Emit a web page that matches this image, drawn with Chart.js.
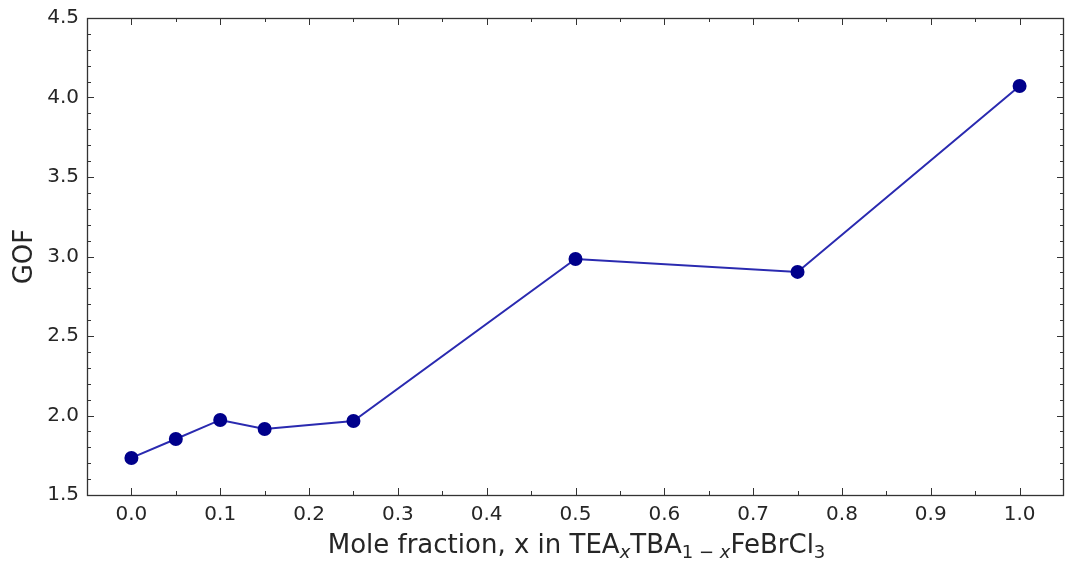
<!DOCTYPE html>
<html>
<head>
<meta charset="utf-8">
<script src="https://cdn.jsdelivr.net/npm/chart.js@4"></script>
<style>
  html, body { margin: 0; padding: 0; background: #fff; }
  #wrap { width: 1065px; height: 563px; }
</style>
</head>
<body>
<div id="wrap"><canvas id="chartGof" width="1065" height="563"></canvas></div>
<script>
// mole fraction x and goodness of fit
const moleFraction = [0.0, 0.05, 0.1, 0.15, 0.25, 0.5, 0.75, 1.0];
const gof = [1.733, 1.852, 1.972, 1.915, 1.965, 2.984, 2.903, 4.072];

const xTicks = [0.0, 0.1, 0.2, 0.3, 0.4, 0.5, 0.6, 0.7, 0.8, 0.9, 1.0];
const yTicks = [1.5, 2.0, 2.5, 3.0, 3.5, 4.0, 4.5];

const FONT = "'DejaVu Sans', sans-serif";
const INK = '#262626';

// inward ticks on all four sides, frame and axis labels
let frameTicks = {
    id: 'frameTicks',
    afterDraw(chart) {
        let ctx = chart.ctx;
        let a = chart.chartArea;
        let xs = chart.scales.x, ys = chart.scales.y;
        ctx.save();
        ctx.strokeStyle = '#333';
        ctx.lineWidth = 1;
        ctx.beginPath();
        for (let i = 0; i <= 22; i++) {
            let v = -0.05 + i * 0.05;
            let px = Math.round(xs.getPixelForValue(v)) + 0.5;
            if (px <= a.left + 1 || px >= a.right - 1) continue;
            let len = (Math.abs(Math.round(v * 20)) % 2 === 0) ? 7 : 4;
            ctx.moveTo(px, a.bottom); ctx.lineTo(px, a.bottom - len);
            ctx.moveTo(px, a.top); ctx.lineTo(px, a.top + len);
        }
        for (let i = 0; i <= 30; i++) {
            let v = 1.5 + i * 0.1;
            let py = Math.round(ys.getPixelForValue(v)) + 0.5;
            if (py <= a.top + 1 || py >= a.bottom - 1) continue;
            let len = (i % 5 === 0) ? 7 : 4;
            ctx.moveTo(a.left, py); ctx.lineTo(a.left + len, py);
            ctx.moveTo(a.right, py); ctx.lineTo(a.right - len, py);
        }
        ctx.stroke();
        ctx.lineWidth = 1.3;
        ctx.strokeRect(a.left + 0.5, a.top + 0.5, a.right - a.left - 1, a.bottom - a.top);

        // y title
        ctx.fillStyle = INK;
        ctx.font = '26px ' + FONT;
        ctx.textAlign = 'center';
        ctx.textBaseline = 'alphabetic';
        ctx.translate(32, (a.top + a.bottom) / 2);
        ctx.rotate(-Math.PI / 2);
        ctx.fillText('GOF', 0, 0);
        ctx.setTransform(1, 0, 0, 1, 0, 0);

        // x title with subscripts: [text, subscript, italic]
        let parts = [
            ['Mole fraction, x in TEA', false, false],
            ['x', true, true],
            ['TBA', false, false],
            ['1 \u2212 ', true, false],
            ['x', true, true],
            ['FeBrCl', false, false],
            ['3', true, false]
        ];
        let fontFor = p => (p[2] ? 'italic ' : '') + (p[1] ? '18px ' : '26px ') + FONT;
        let total = 0;
        parts.forEach(p => { ctx.font = fontFor(p); total += ctx.measureText(p[0]).width; });
        let x = (a.left + a.right) / 2 + 1 - total / 2;
        let base = 553;
        ctx.textAlign = 'left';
        parts.forEach(p => {
            ctx.font = fontFor(p);
            ctx.fillText(p[0], x, p[1] ? base + 5 : base);
            x += ctx.measureText(p[0]).width;
        });
        ctx.restore();
    }
};

let contextGof = document.querySelector('#chartGof').getContext('2d');

let config = {
    type: 'scatter',
    data: {
        datasets: [{
            data: moleFraction.map((x, i) => ({ x: x, y: gof[i] })),
            showLine: true,
            borderColor: '#2a2ab0',
            borderWidth: 2,
            pointBackgroundColor: '#00008b',
            pointBorderColor: '#00008b',
            pointRadius: 6,
            pointHoverRadius: 6
        }]
    },
    options: {
        responsive: false,
        animation: false,
        events: [],
        layout: { autoPadding: false, padding: { top: 18, right: 1, left: 0, bottom: 0 } },
        plugins: { legend: { display: false }, tooltip: { enabled: false } },
        scales: {
            x: {
                type: 'linear',
                min: -0.05,
                max: 1.05,
                grid: { display: false, drawTicks: false },
                border: { display: false },
                afterBuildTicks: s => { s.ticks = xTicks.map(v => ({ value: v })); },
                afterFit: s => { s.height = 68; s.paddingLeft = 0; s.paddingRight = 0; },
                ticks: {
                    padding: 8,
                    color: INK,
                    font: { family: FONT, size: 20 },
                    maxRotation: 0,
                    callback: v => v.toFixed(1)
                }
            },
            y: {
                min: 1.5,
                max: 4.5,
                grid: { display: false, drawTicks: false },
                border: { display: false },
                afterBuildTicks: s => { s.ticks = yTicks.map(v => ({ value: v })); },
                afterFit: s => { s.width = 87; s.paddingTop = 0; s.paddingBottom = 0; },
                ticks: {
                    padding: 8,
                    color: INK,
                    font: { family: FONT, size: 20 },
                    callback: v => v.toFixed(1)
                }
            }
        }
    },
    plugins: [frameTicks]
};

let chartGof = new Chart(contextGof, config);
</script>
</body>
</html>
